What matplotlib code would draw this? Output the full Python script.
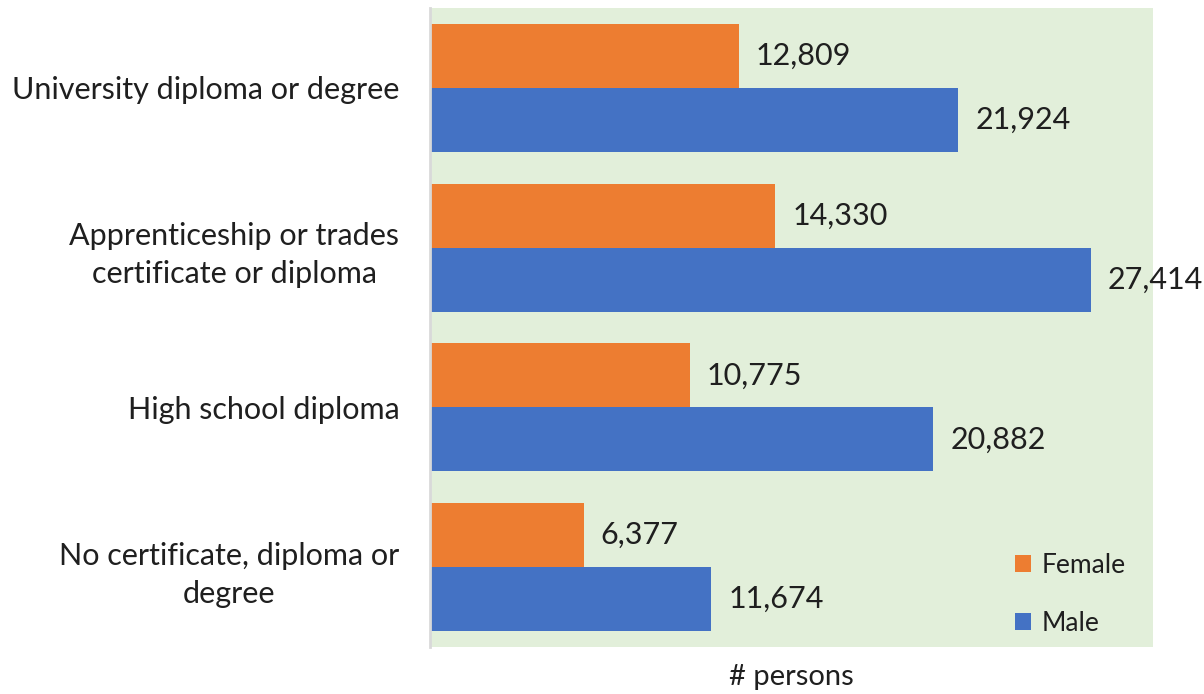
import numpy as np
import matplotlib.pyplot as plt

plt.rcParams['font.family'] = ['Lato', 'DejaVu Sans']

# data
categories = ['University diploma or degree',
              'Apprenticeship or trades\ncertificate or diploma',
              'High school diploma',
              'No certificate, diploma or\ndegree']
female = [12809, 14330, 10775, 6377]
male = [21924, 27414, 20882, 11674]

fig = plt.figure(figsize=(12.04, 6.94), dpi=100)
ax = fig.add_axes([430 / 1204, 1 - 647 / 694, 723 / 1204, 639 / 694])
ax.set_facecolor('#E2EFDA')

y = np.arange(len(categories))
h = 0.4
ax.barh(y - h / 2, female, height=h, color='#ED7D31', label='Female')
ax.barh(y + h / 2, male, height=h, color='#4472C4', label='Male')

for yi, v in zip(y - h / 2, female):
    ax.text(v + 700, yi, f'{v:,}', va='center', ha='left', fontsize=22, color='#1f1f1f')
for yi, v in zip(y + h / 2, male):
    ax.text(v + 700, yi, f'{v:,}', va='center', ha='left', fontsize=22, color='#1f1f1f')

ax.set_xlim(0, 30000)
ax.set_ylim(3.5, -0.5)
ax.set_yticks(y)
ax.set_yticklabels(categories, fontsize=22, color='#1f1f1f', multialignment='center',
                   linespacing=1.45)
ax.tick_params(axis='y', length=0, pad=22)
ax.set_xticks([])
ax.set_xlabel('# persons', fontsize=21, color='#1f1f1f', labelpad=12)

for s in ['top', 'right', 'bottom']:
    ax.spines[s].set_visible(False)
ax.spines['left'].set_color('#D9D9D9')
ax.spines['left'].set_linewidth(2)

ax.legend(loc='lower right', frameon=False, fontsize=19, handlelength=0.6,
          handleheight=0.6, labelspacing=1.25, handletextpad=0.4,
          labelcolor='#1f1f1f', bbox_to_anchor=(0.995, -0.02))

fig.savefig('out.png', dpi=100)
